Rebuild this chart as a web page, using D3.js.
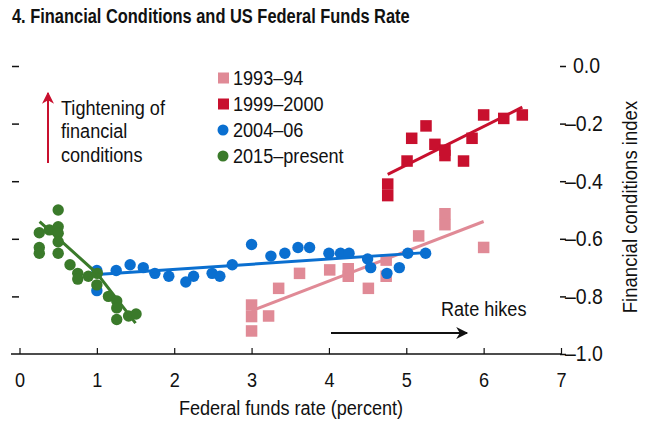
<!DOCTYPE html>
<html><head><meta charset="utf-8">
<script src="https://cdn.jsdelivr.net/npm/d3@7"></script>
<style>
body{margin:0;background:#fff}
svg text{font-family:"Liberation Sans Narrow","Liberation Sans",Arial,sans-serif;fill:#111}
</style></head>
<body><svg id="c" width="651" height="421"></svg>
<script>
// ---- data ----
const xTicks = [0,1,2,3,4,5,6,7];
const yTicks = [0,-0.2,-0.4,-0.6,-0.8,-1.0];
const yTickLabels = ["0.0","–0.2","–0.4","–0.6","–0.8","–1.0"];
const seriesNames = ["1993–94","1999–2000","2004–06","2015–present"];

const s1993 = [[3.0,-0.92],[3.0,-0.83],[3.0,-0.87],[3.22,-0.868],[3.35,-0.772],[3.62,-0.72],[4.01,-0.708],
  [4.25,-0.704],[4.25,-0.73],[4.51,-0.772],[4.74,-0.674],[4.74,-0.73],[5.16,-0.59],[5.5,-0.513],[5.5,-0.551],[6.0,-0.63]];
const s1999 = [[4.76,-0.41],[4.76,-0.45],[5.01,-0.33],[5.07,-0.251],[5.255,-0.208],[5.37,-0.272],[5.5,-0.292],
  [5.5,-0.311],[5.74,-0.33],[5.85,-0.251],[6.0,-0.17],[6.26,-0.182],[6.5,-0.17]];
const s2004 = [[1.0,-0.78],[1.0,-0.71],[1.25,-0.71],[1.43,-0.69],[1.6,-0.70],[1.75,-0.72],[1.93,-0.73],[2.15,-0.75],
  [2.25,-0.73],[2.49,-0.72],[2.59,-0.73],[2.75,-0.69],[3.0,-0.62],[3.25,-0.66],[3.43,-0.65],[3.6,-0.63],[3.75,-0.63],
  [4.0,-0.65],[4.15,-0.65],[4.26,-0.65],[4.5,-0.67],[4.54,-0.70],[4.75,-0.72],[4.91,-0.70],[5.02,-0.65],[5.25,-0.65]];
const s2015 = [[0.5,-0.50],[0.256,-0.579],[0.386,-0.569],[0.5,-0.558],[0.5,-0.581],[0.5,-0.61],[0.256,-0.63],
  [0.256,-0.65],[0.5,-0.65],[0.653,-0.69],[0.753,-0.72],[0.753,-0.74],[0.89,-0.73],[1.006,-0.72],[1.0,-0.76],
  [1.15,-0.80],[1.257,-0.816],[1.257,-0.84],[1.257,-0.88],[1.41,-0.868],[1.507,-0.861]];
const fit1993 = [[3.0,-0.85],[6.0,-0.54]];
const fit1999 = [[4.76,-0.376],[6.5,-0.143]];
const fit2004 = [[1.0,-0.724],[5.25,-0.648]];
const fit2015 = [[0.26,-0.54],[1.0,-0.72],[1.5,-0.893]];

const colors = {pink:"#e08a96", red:"#c8102e", blue:"#0a6fd0", green:"#3a7a2a"};

// ---- chart ----
const svg = d3.select("#c");
const x = d3.scaleLinear().domain([0,7]).range([19.5,561]);
const y = d3.scaleLinear().domain([-1,0]).range([354,66]);

const title = svg.append("text").attr("x",12).attr("y",23).attr("font-weight","bold").attr("font-size",20.5)
  .text("4. Financial Conditions and US Federal Funds Rate");

// bottom axis
const xa = svg.append("g").attr("transform","translate(0,354)")
  .call(d3.axisBottom(x).tickValues(xTicks).tickFormat(d3.format("d")).tickSize(-6).tickPadding(14).tickSizeOuter(0));
xa.select(".domain").remove();
xa.append("line").attr("x1",11).attr("x2",561).attr("stroke","#111").attr("stroke-width",1.5);
xa.selectAll(".tick line").attr("stroke","#111").attr("stroke-width",1.2);
xa.selectAll(".tick text").attr("font-size",20).attr("fill","#111").attr("dy","0.95em");

// left ticks (no labels)
const ya = svg.append("g").attr("transform","translate(19,0)")
  .call(d3.axisLeft(y).tickValues(yTicks.slice(0,5)).tickSize(7).tickFormat(""));
ya.select(".domain").remove();
ya.selectAll(".tick line").attr("stroke","#111").attr("stroke-width",1.5);

// right axis
const yr = svg.append("g").attr("transform","translate(560,0)")
  .call(d3.axisRight(y).tickValues(yTicks).tickSize(6).tickPadding(3)
    .tickFormat((d,i)=>yTickLabels[i]));
yr.select(".domain").remove();
yr.selectAll(".tick line").attr("stroke","#111").attr("stroke-width",1.5);
yr.selectAll(".tick text").attr("font-size",21.5).attr("fill","#111")
  .attr("x",(d)=> d===0 ? 13 : 5);

const ylab = svg.append("text").attr("text-anchor","middle").attr("font-size",20.5).text("Financial conditions index");

svg.append("text").attr("x",291).attr("y",415).attr("text-anchor","middle").attr("font-size",20)
  .text("Federal funds rate (percent)");

// fit lines
const line = d3.line().x(d=>x(d[0])).y(d=>y(d[1]));

// points
const sq = 11.5, r = 5.7;
function squares(data,col){
  svg.append("g").selectAll("rect").data(data).join("rect")
    .attr("x",d=>x(d[0])-sq/2).attr("y",d=>y(d[1])-sq/2).attr("width",sq).attr("height",sq).attr("fill",col);
}
function circles(data,col){
  svg.append("g").selectAll("circle").data(data).join("circle")
    .attr("cx",d=>x(d[0])).attr("cy",d=>y(d[1])).attr("r",r).attr("fill",col);
}
function fit(data,col){
  svg.append("path").attr("d",line(data)).attr("stroke",col).attr("stroke-width",3).attr("fill","none");
}
squares(s1993,colors.pink); fit(fit1993,colors.pink);
squares(s1999,colors.red);  fit(fit1999,colors.red);
circles(s2004,colors.blue); fit(fit2004,colors.blue);
circles(s2015,colors.green); fit(fit2015,colors.green);

// legend
const legCols = [colors.pink,colors.red,colors.blue,colors.green];
const lg = svg.append("g").attr("transform","translate(218,0)");
seriesNames.forEach((n,i)=>{
  const cy = 78 + i*26;
  if(i<2) lg.append("rect").attr("x",0).attr("y",cy-5.5).attr("width",11).attr("height",11).attr("fill",legCols[i]);
  else lg.append("circle").attr("cx",5).attr("cy",cy).attr("r",5.5).attr("fill",legCols[i]);
  lg.append("text").attr("x",15).attr("y",cy+7).attr("font-size",20).text(n);
});

// annotations
const defs = svg.append("defs");
defs.append("marker").attr("id","ahR").attr("viewBox","0 0 10 10").attr("refX",9).attr("refY",5)
  .attr("markerWidth",12).attr("markerHeight",14).attr("markerUnits","userSpaceOnUse").attr("orient","auto")
  .append("path").attr("d","M0,0L10,5L0,10L3,5Z").attr("fill",colors.red);
defs.append("marker").attr("id","ahK").attr("viewBox","0 0 10 10").attr("refX",9).attr("refY",5)
  .attr("markerWidth",14).attr("markerHeight",12).attr("markerUnits","userSpaceOnUse").attr("orient","auto")
  .append("path").attr("d","M0,0L10,5L0,10L3,5Z").attr("fill","#111");
svg.append("line").attr("x1",48).attr("x2",48).attr("y1",163).attr("y2",93)
  .attr("stroke",colors.red).attr("stroke-width",2).attr("marker-end","url(#ahR)");
const tt = svg.append("text").attr("x",61).attr("y",115).attr("font-size",20);
["Tightening of","financial","conditions"].forEach((t,i)=>tt.append("tspan").attr("x",61).attr("dy",i?23.5:0).text(t));

svg.append("line").attr("x1",331).attr("x2",467).attr("y1",333).attr("y2",333)
  .attr("stroke","#111").attr("stroke-width",2).attr("marker-end","url(#ahK)");
svg.append("text").attr("x",441).attr("y",316).attr("font-size",20).text("Rate hikes");

// condensed look: compress text horizontally around its anchor
const bodyK = 104 / tt.select("tspan").node().getComputedTextLength();
const titleK = 398 / title.node().getComputedTextLength();
svg.selectAll("text").each(function(){
  if(this === ylab.node()) return;
  const el = d3.select(this);
  const k = this === title.node() ? titleK : bodyK;
  const ax = +(el.attr("x") || 0);
  el.attr("transform",`translate(${ax},0) scale(${k},1) translate(${-ax},0)`);
});
ylab.attr("transform",`translate(637,207) rotate(-90) scale(${bodyK},1)`);
</script></body></html>
